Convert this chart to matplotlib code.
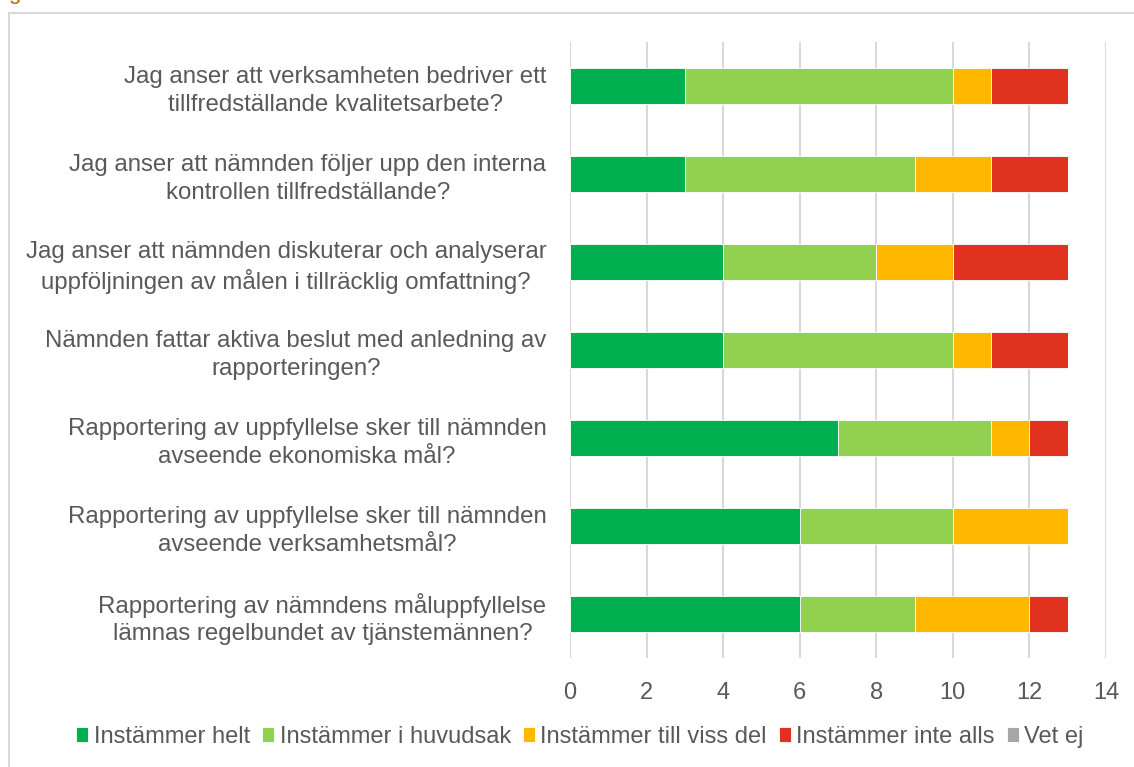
import matplotlib
matplotlib.use("Agg")
import matplotlib.pyplot as plt
from matplotlib.patches import Rectangle
import numpy as np

plt.rcParams['font.family'] = ['Liberation Sans', 'DejaVu Sans']

categories = [
    "Jag anser att verksamheten bedriver ett\ntillfredställande kvalitetsarbete?",
    "Jag anser att nämnden följer upp den interna\nkontrollen tillfredställande?",
    "Jag anser att nämnden diskuterar och analyserar\nuppföljningen av målen i tillräcklig omfattning?",
    "Nämnden fattar aktiva beslut med anledning av\nrapporteringen?",
    "Rapportering av uppfyllelse sker till nämnden\navseende ekonomiska mål?",
    "Rapportering av uppfyllelse sker till nämnden\navseende verksamhetsmål?",
    "Rapportering av nämndens måluppfyllelse\nlämnas regelbundet av tjänstemännen?",
]
series_names = ["Instämmer helt", "Instämmer i huvudsak", "Instämmer till viss del",
                "Instämmer inte alls", "Vet ej"]
helt = [3, 3, 4, 4, 7, 6, 6]
huvudsak = [7, 6, 4, 6, 4, 4, 3]
viss_del = [1, 2, 2, 1, 1, 3, 3]
inte_alls = [2, 2, 3, 2, 1, 0, 1]
vet_ej = [0, 0, 0, 0, 0, 0, 0]
colors = ["#00B050", "#92D050", "#FFB700", "#E0321F", "#A6A6A6"]
xticks = [0, 2, 4, 6, 8, 10, 12, 14]

fig = plt.figure(figsize=(11.34, 7.67), dpi=100)
ax = fig.add_axes([570/1134, 1-658/767, (1106-570)/1134, (658-42)/767])

n = len(categories)
y = np.arange(n)[::-1]
left = np.zeros(n)
for name, vals, c in zip(series_names, [helt, huvudsak, viss_del, inte_alls, vet_ej], colors):
    vals = np.array(vals, dtype=float)
    ax.barh(y, vals, left=left, height=0.4, color=c, label=name, zorder=3,
            edgecolor='white', linewidth=0.6)
    left += vals

ax.set_xlim(0, 14)
ax.set_ylim(-0.5, n - 0.5)
ax.set_xticks(xticks)
ax.set_xticklabels([str(t) for t in xticks])
ax.set_yticks(y)
ax.set_yticklabels(categories, ha='right', multialignment='center', linespacing=1.3)
ax.tick_params(axis='x', length=0, pad=17, labelsize=17, labelcolor='#595959')
ax.tick_params(axis='y', length=0, pad=17, labelsize=17.3, labelcolor='#595959')
for s in ax.spines.values():
    s.set_visible(False)
ax.grid(axis='x', color='#D9D9D9', linewidth=1.5, zorder=0)
ax.set_axisbelow(True)

leg = fig.legend(loc='center', bbox_to_anchor=(580/1134, 1-737/767), ncol=5,
                 frameon=False, fontsize=17, handlelength=0.5, handleheight=0.6,
                 handletextpad=0.25, columnspacing=0.5, labelcolor='#595959')

fig.patches.append(Rectangle((9/1134, -0.05), 1.2, 1-13/767+0.05, transform=fig.transFigure,
                             fill=False, edgecolor='#D9D9D9', linewidth=1.5))
fig.text(8/1134, 1 + 1/767, "g", color='#C0640A', fontsize=16, va='baseline', ha='left')

fig.savefig("out.png", dpi=100)
